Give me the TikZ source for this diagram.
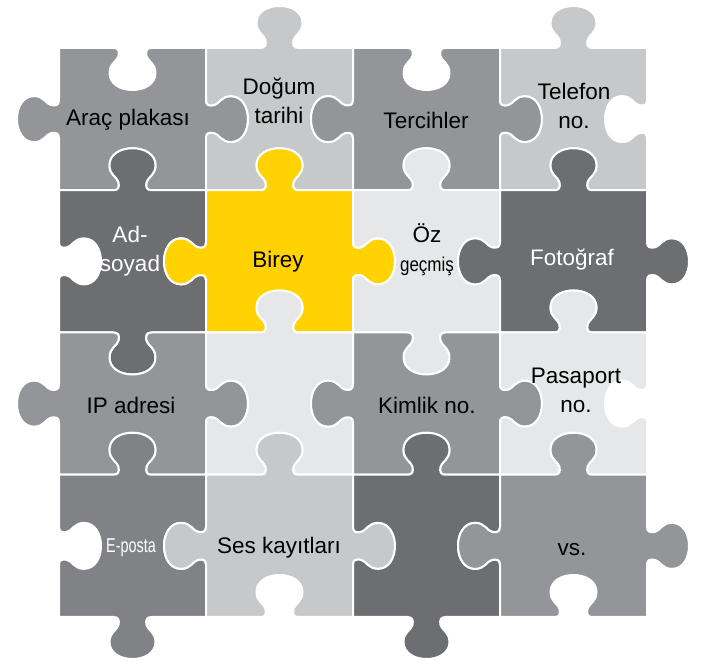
\documentclass[tikz,border=0pt]{standalone}
\usepackage{fontspec}
\setmainfont{Liberation Sans}
\definecolor{pmed}{HTML}{939598}
\definecolor{plight}{HTML}{C7C8CA}
\definecolor{pvlight}{HTML}{E6E7E8}
\definecolor{pdark}{HTML}{6D6E71}
\definecolor{pmdark}{HTML}{808285}
\definecolor{pyellow}{HTML}{FFD200}
% point on a tab profile: mx,my,tx,ty,nx,ny,sign,u,v
\newcommand\TQ[9]{({#1+(#3)*(#8)+(#5)*(#7)*(#9)},{#2+(#4)*(#8)+(#6)*(#7)*(#9)})}
\newcommand\ETx[1]{-- #1{-19}{0} .. controls #1{-14}{0} and #1{-13}{3} .. #1{-14}{8}
 .. controls #1{-15}{13} and #1{-23}{15} .. #1{-23}{25}
 .. controls #1{-23}{36} and #1{-12}{42} .. #1{0}{42}
 .. controls #1{12}{42} and #1{23}{36} .. #1{23}{25}
 .. controls #1{23}{15} and #1{15}{13} .. #1{14}{8}
 .. controls #1{13}{3} and #1{14}{0} .. #1{19}{0}}
\newcommand\ET[7]{\ETx{\TQ{#1}{#2}{#3}{#4}{#5}{#6}{#7}}}
\newcommand\piece[7]{%
 \pgfmathsetmacro\xl{59+147*(#1-1)}%
 \pgfmathsetmacro\xr{\xl+147}%
 \pgfmathsetmacro\xm{\xl+73.5}%
 \pgfmathsetmacro\yt{613-142.25*(#2-1)}%
 \pgfmathsetmacro\yb{\yt-142.25}%
 \pgfmathsetmacro\ym{\yt-71.125}%
 \edef\pp{(\xl,\yt) \ET{\xm}{\yt}{1}{0}{0}{1}{#4} -- (\xr,\yt) \ET{\xr}{\ym}{0}{-1}{1}{0}{#5} -- (\xr,\yb) \ET{\xm}{\yb}{-1}{0}{0}{-1}{#6} -- (\xl,\yb) \ET{\xl}{\ym}{0}{1}{-1}{0}{#7} -- cycle}%
 \filldraw[pz,fill=#3] \pp;%
}
\begin{document}
\begin{tikzpicture}[x=1pt,y=1pt,
  pz/.style={draw=white,line width=2pt,line join=round},
  lbl/.style={align=center,inner sep=0pt,font=\fontsize{22.5}{29}\selectfont,text=black},
  wlbl/.style={lbl,text=white}]
\useasboundingbox (0,0) rectangle (715,661);
% row 1
\piece{1}{1}{pmed}{-1}{1}{-1}{1}
\piece{2}{1}{plight}{1}{-1}{-1}{-1}
\piece{3}{1}{pmed}{-1}{1}{-1}{1}
\piece{4}{1}{plight}{1}{-1}{-1}{-1}
% row 2
\piece{1}{2}{pdark}{1}{-1}{1}{-1}
\piece{2}{2}{pyellow}{1}{1}{-1}{1}
\piece{3}{2}{pvlight}{1}{-1}{1}{-1}
\piece{4}{2}{pdark}{1}{1}{-1}{1}
% row 3
\piece{1}{3}{pmed}{-1}{1}{-1}{1}
\piece{2}{3}{pvlight}{1}{-1}{-1}{-1}
\piece{3}{3}{pmed}{-1}{1}{-1}{1}
\piece{4}{3}{pvlight}{1}{-1}{-1}{-1}
% row 4
\piece{1}{4}{pmdark}{1}{-1}{1}{-1}
\piece{2}{4}{plight}{1}{1}{-1}{1}
\piece{3}{4}{pdark}{1}{-1}{1}{-1}
\piece{4}{4}{pmed}{1}{1}{-1}{1}
% labels
\node[lbl] (l11) at (128,541) {Araç plakası};
\node[lbl] (l21) at (279,560) {Doğum\\tarihi};
\node[lbl] (l31) at (426,541) {Tercihler};
\node[lbl] (l41) at (574,555) {Telefon\\no.};
\node[wlbl] (l12) at (130,410) {Ad-\\soyad};
\node[lbl] (l22) at (278,399) {Birey};
\node[lbl] (l32) at (427,411) {Öz\\\scalebox{0.85}[1]{\fontsize{20}{29}\selectfont geçmiş}};
\node[wlbl] (l42) at (572,401) {Fotoğraf};
\node[lbl] (l13) at (131,256) {IP adresi};
\node[lbl] (l33) at (427,256) {Kimlik no.};
\node[lbl] (l43) at (576,271) {Pasaport\\no.};
\node[wlbl] (l14) at (131,113) {\scalebox{0.72}[1]{\fontsize{20}{24}\selectfont E-posta}};
\node[lbl] (l24) at (279,113) {Ses kayıtları};
\node[lbl] (l44) at (572,111) {vs.};
\end{tikzpicture}
\end{document}
